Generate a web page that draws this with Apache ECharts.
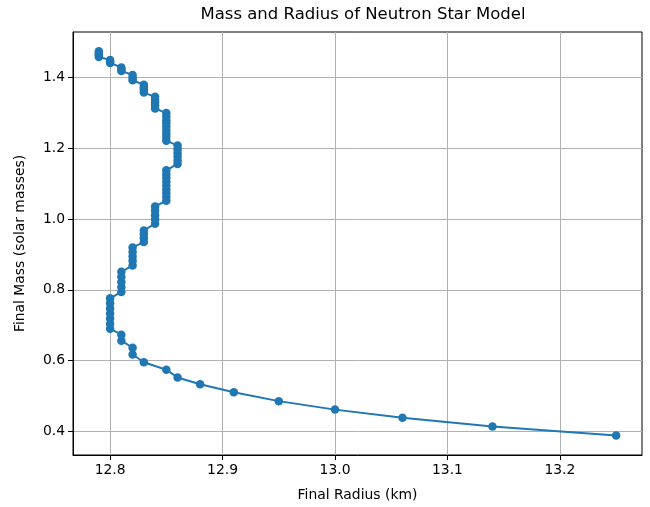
<!DOCTYPE html>
<html>
<head>
<meta charset="utf-8">
<script src="https://cdn.jsdelivr.net/npm/echarts@6/dist/echarts.min.js"></script>
<style>html,body{margin:0;padding:0;background:#fff;}#c{width:650px;height:507px;}</style>
</head>
<body>
<div id="c"></div>
<script>
const titleText = "Mass and Radius of Neutron Star Model";
const xName = "Final Radius (km)";
const yName = "Final Mass (solar masses)";
const xTicks = [12.8, 12.9, 13.0, 13.1, 13.2];
const yTicks = [0.4, 0.6, 0.8, 1.0, 1.2, 1.4];
const radius = [
  13.25, 13.14, 13.06, 13.00, 12.95, 12.91, 12.88, 12.86, 12.85, 12.83,
  12.82, 12.82, 12.81, 12.81,
  12.80, 12.80, 12.80, 12.80, 12.80, 12.80, 12.80,
  12.81, 12.81, 12.81, 12.81, 12.81,
  12.82, 12.82, 12.82, 12.82, 12.82,
  12.83, 12.83, 12.83, 12.83,
  12.84, 12.84, 12.84, 12.84, 12.84,
  12.85, 12.85, 12.85, 12.85, 12.85, 12.85, 12.85, 12.85, 12.85,
  12.86, 12.86, 12.86, 12.86, 12.86, 12.86,
  12.85, 12.85, 12.85, 12.85, 12.85, 12.85, 12.85, 12.85, 12.85,
  12.84, 12.84, 12.84, 12.84, 12.84,
  12.83, 12.83, 12.83, 12.83,
  12.82, 12.82, 12.82,
  12.81, 12.81, 12.81,
  12.80, 12.80, 12.80,
  12.79, 12.79, 12.79, 12.79, 12.79
];
const mass = [
  0.388, 0.413, 0.438, 0.461, 0.485, 0.510, 0.533, 0.552, 0.574, 0.595,
  0.617, 0.636, 0.656, 0.673,
  0.690, 0.704, 0.719, 0.733, 0.747, 0.762, 0.776,
  0.794, 0.808, 0.822, 0.837, 0.851,
  0.869, 0.882, 0.894, 0.907, 0.920,
  0.935, 0.946, 0.957, 0.968,
  0.987, 0.999, 1.011, 1.024, 1.036,
  1.052, 1.063, 1.074, 1.084, 1.095, 1.106, 1.117, 1.127, 1.138,
  1.156, 1.166, 1.177, 1.187, 1.198, 1.208,
  1.222, 1.232, 1.241, 1.251, 1.261, 1.271, 1.280, 1.290, 1.300,
  1.313, 1.322, 1.330, 1.338, 1.346,
  1.358, 1.366, 1.373, 1.380,
  1.393, 1.400, 1.408,
  1.419, 1.424, 1.429,
  1.442, 1.446, 1.450,
  1.459, 1.463, 1.467, 1.471, 1.475
];
const pts = radius.map((r, i) => [r, mass[i]]);
const font = "DejaVu Sans";
const chart = echarts.init(document.getElementById('c'), null, {renderer: 'canvas'});
chart.setOption({
  animation: false,
  backgroundColor: '#fff',
  title: {
    text: titleText, left: 358, top: 1, textAlign: 'center',
    textStyle: {fontFamily: font, fontSize: 16.5, fontWeight: 'normal', color: '#000'}
  },
  grid: {left: 73, right: 8, top: 32, bottom: 51, show: true, borderColor: '#000', borderWidth: 1, containLabel: false},
  xAxis: {
    type: 'value', min: 12.767, max: 13.273,
    name: xName, nameLocation: 'middle', nameGap: 33,
    nameTextStyle: {fontFamily: font, fontSize: 13.9, color: '#000'},
    axisLine: {show: true, lineStyle: {color: '#000', width: 1}},
    axisTick: {show: true, length: 5, customValues: xTicks, lineStyle: {color: '#000'}},
    axisLabel: {customValues: xTicks, margin: 8, fontFamily: font, fontSize: 13.9, color: '#000', formatter: v => v.toFixed(1)},
    splitLine: {show: true, lineStyle: {color: '#b0b0b0', width: 1}}
  },
  yAxis: {
    type: 'value', min: 0.3326, max: 1.5294,
    name: yName, nameLocation: 'middle', nameGap: 46, nameRotate: 90,
    nameTextStyle: {fontFamily: font, fontSize: 13.9, color: '#000'},
    axisLine: {show: true, lineStyle: {color: '#000', width: 1}},
    axisTick: {show: true, length: 5, customValues: yTicks, lineStyle: {color: '#000'}},
    axisLabel: {customValues: yTicks, margin: 8, fontFamily: font, fontSize: 13.9, color: '#000', formatter: v => v.toFixed(1)},
    splitLine: {show: true, lineStyle: {color: '#b0b0b0', width: 1}}
  },
  series: [{
    type: 'line', data: pts, symbol: 'circle', symbolSize: 8.5, showSymbol: true,
    lineStyle: {color: '#1f77b4', width: 2},
    itemStyle: {color: '#1f77b4', borderWidth: 0}
  }]
});
</script>
</body>
</html>
